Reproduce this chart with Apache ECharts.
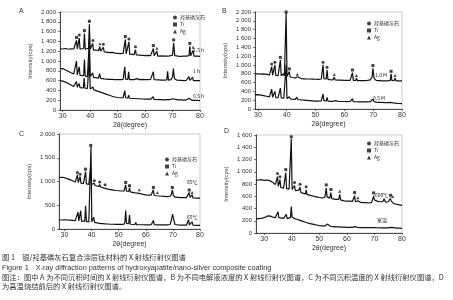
<!DOCTYPE html>
<html>
<head>
<meta charset="utf-8">
<script src="https://cdn.jsdelivr.net/npm/echarts@6/dist/echarts.min.js"></script>
<style>
  html, body { margin: 0; padding: 0; background: #fff; }
  #main { width: 453px; height: 300px; }
</style>
</head>
<body>
<div id="main"></div>
<script>
// x tick labels shared by all four panels
const xTicks = [30, 40, 50, 60, 70, 80];

// panel A: three deposition times
const A1 = [[29,1250],[30,1245],[31,1255],[32,1240],[33,1250],[34,1245],[34.7,1250],[35,1420],[35.3,1245],[35.7,1250],[36,1470],[36.3,1240],[37,1250],[37.6,1255],[37.9,1560],[38.2,1240],[38.8,1250],[39.4,1260],[39.7,1750],[40,1240],[40.6,1230],[40.9,1360],[41.2,1220],[42,1225],[43,1210],[43.5,1290],[43.8,1200],[44.5,1195],[44.8,1280],[45.1,1185],[46,1180],[47,1170],[48,1175],[49,1160],[50,1155],[51,1150],[52,1155],[52.5,1150],[52.8,1440],[53.1,1145],[53.8,1150],[54.1,1390],[54.4,1140],[55,1135],[56,1130],[56.5,1230],[56.8,1125],[58,1120],[59,1115],[60,1110],[61,1115],[62,1110],[62.7,1115],[63,1255],[63.3,1110],[64,1105],[64.3,1200],[64.6,1100],[66,1105],[67,1100],[68,1100],[69,1105],[70,1120],[70.4,1370],[70.8,1110],[71.5,1100],[72,1100],[73,1095],[74,1100],[75,1100],[76,1110],[76.3,1300],[76.6,1105],[77.2,1100],[77.5,1220],[77.8,1100],[78,1095],[79,1100],[80,1095]];
const A2 = [[29,840],[29.5,850],[30,845],[31,815],[32,790],[33,760],[34,735],[34.7,720],[35,1000],[35.3,715],[35.7,710],[36,880],[36.3,705],[37,700],[37.6,700],[37.9,1030],[38.2,690],[39,680],[39.4,690],[39.7,1450],[40,680],[40.6,670],[40.9,760],[41.2,665],[42,660],[43,650],[43.4,740],[43.8,645],[45,635],[46,630],[47,625],[48,625],[49,620],[50,620],[51,620],[52,625],[52.3,640],[52.6,880],[52.9,630],[53.7,625],[54,780],[54.3,620],[55,620],[56,620],[57,640],[57.4,625],[58,620],[59,625],[60,620],[61,620],[62,625],[62.7,630],[63,780],[63.3,620],[64,615],[65,615],[66,610],[67,610],[67.9,615],[68.2,790],[68.5,610],[69.5,620],[70,680],[70.3,845],[70.7,640],[71.5,610],[72,605],[73,605],[74,600],[75,605],[75.7,610],[76,680],[76.3,605],[77,610],[77.3,665],[77.6,600],[78,600],[79,600],[80,600]];
const A3 = [[29,600],[30,590],[31,570],[32,540],[33,510],[34,480],[34.7,470],[35,580],[35.3,465],[35.7,460],[36,540],[36.3,455],[37,450],[37.5,450],[37.8,650],[38.1,445],[39,440],[39.4,450],[39.7,1100],[40,430],[40.7,420],[41,470],[41.3,410],[42,400],[43,380],[44,360],[44.5,380],[45,340],[46,320],[47,300],[48,280],[49,265],[50,255],[51,250],[52,250],[52.3,260],[52.6,395],[52.9,250],[53.7,245],[54,305],[54.3,240],[55,240],[56,235],[57,230],[57.5,270],[57.8,230],[59,225],[60,220],[61,220],[62,220],[62.7,225],[63,270],[63.3,215],[64,215],[65,210],[66,210],[67,205],[68,210],[69,210],[70,230],[70.3,270],[70.7,215],[72,205],[73,205],[74,200],[75,205],[75.7,205],[76,240],[76.3,200],[77,200],[77.3,225],[77.6,200],[78,195],[79,195],[80,190]];

// panel B: two electrolyte concentrations
const B1 = [[29,795],[30,800],[31,790],[32,795],[33,785],[34,775],[34.5,770],[34.8,960],[35.1,765],[35.6,770],[35.9,1000],[36.2,760],[37,755],[37.5,760],[37.8,1110],[38.1,750],[38.7,760],[38.9,800],[39.2,750],[39.5,760],[39.8,2180],[40.1,740],[40.6,735],[40.9,850],[41.2,725],[42,715],[43,705],[43.7,730],[44,700],[45,690],[46,685],[47,680],[48,680],[49,678],[50,675],[51,672],[52,680],[52.3,700],[52.6,1000],[52.9,690],[53.7,680],[54,885],[54.3,670],[55,665],[56,660],[56.5,720],[56.8,660],[58,655],[59,655],[60,650],[61,650],[62,650],[62.5,660],[62.8,825],[63.1,650],[64,650],[64.2,700],[64.5,645],[66,645],[67,645],[68,650],[69,660],[69.6,720],[69.9,925],[70.3,700],[71,650],[72,645],[73,640],[74,640],[75,640],[75.9,650],[76.2,795],[76.5,645],[77.3,650],[77.6,700],[77.9,640],[79,640],[80,638]];
const B2 = [[29,320],[30,325],[31,315],[32,305],[33,290],[34,275],[34.5,270],[34.8,450],[35.1,265],[35.6,262],[35.9,400],[36.2,260],[37,255],[37.5,258],[37.8,475],[38.1,250],[39,245],[39.5,250],[39.8,1000],[40.1,240],[40.6,235],[40.9,280],[41.2,230],[42,225],[43,220],[43.5,270],[43.8,215],[45,205],[46,200],[47,195],[48,190],[49,185],[50,180],[51,178],[52,185],[52.3,200],[52.6,340],[52.9,190],[53.7,185],[54,265],[54.3,180],[55,175],[56,175],[57,190],[57.3,175],[58,170],[59,170],[60,170],[61,168],[62,170],[62.5,175],[62.8,235],[63.1,165],[64,165],[65,160],[66,165],[66.3,180],[66.6,160],[68,160],[69,165],[69.6,190],[69.9,225],[70.3,170],[71,155],[72,150],[73,150],[74,145],[75,145],[75.7,150],[76,170],[76.3,140],[77,140],[77.4,165],[77.7,135],[78,130],[79,125],[80,120]];

// panel C: two deposition temperatures
const C1 = [[28,1080],[29,1090],[30,1080],[31,1060],[32,1040],[33,1015],[34,990],[34.5,980],[34.8,1140],[35.1,975],[35.5,970],[35.8,1105],[36.1,965],[37,955],[37.5,960],[37.8,1210],[38.1,950],[39,940],[39.4,945],[39.7,1300],[40,935],[40.7,925],[41,965],[41.3,915],[42,905],[42.7,895],[43,940],[43.3,885],[44,870],[44.7,860],[45,880],[45.3,850],[46,840],[47,830],[48,820],[49,810],[50,805],[51,800],[52,800],[52.3,810],[52.6,930],[52.9,795],[53.7,790],[54,860],[54.3,780],[55,770],[56,760],[57,755],[57.6,775],[57.9,745],[59,730],[60,720],[61,715],[62,715],[62.5,720],[62.8,825],[63.1,710],[64,700],[64.3,720],[64.6,695],[66,690],[67,685],[68,680],[69,690],[69.5,740],[69.8,825],[70.2,700],[71,670],[72,665],[73,660],[74,660],[75,660],[75.7,670],[76,770],[76.3,665],[76.8,670],[77.1,720],[77.4,655],[78,650],[79,650],[80,648]];
const C2 = [[28,195],[29,190],[30,195],[31,190],[32,185],[33,180],[34,175],[34.7,175],[35,355],[35.3,170],[35.7,170],[36,385],[36.3,165],[37,160],[37.5,165],[37.8,490],[38.1,160],[39,150],[39.5,155],[39.8,1730],[40.1,150],[40.5,150],[40.8,250],[41.1,140],[42,130],[43,120],[44,115],[45,108],[46,105],[47,100],[48,100],[49,98],[50,98],[51,96],[52,100],[52.3,150],[52.6,390],[52.9,120],[53.7,110],[54,300],[54.3,100],[55,95],[56,95],[56.3,140],[56.6,92],[58,90],[59,90],[60,88],[61,88],[62,90],[62.5,110],[62.8,180],[63.1,95],[64,88],[64.3,100],[64.6,85],[66,85],[67,85],[68,85],[69,95],[69.5,200],[69.9,315],[70.3,200],[70.8,95],[72,85],[73,80],[74,80],[75,80],[75.5,90],[75.8,195],[76.1,85],[76.8,90],[77.1,150],[77.4,80],[78,80],[79,78],[80,75]];

// panel D: before / after sintering
const D1 = [[27,860],[28,865],[29,870],[30,860],[31,865],[32,855],[33,830],[34,790],[34.5,770],[34.8,920],[35.1,760],[35.4,755],[35.7,870],[36,745],[37,730],[37.5,735],[37.8,985],[38.1,725],[39,715],[39.5,720],[39.8,1540],[40.1,710],[40.7,700],[41,775],[41.3,690],[42,680],[42.5,700],[42.8,670],[43,745],[43.3,660],[44,650],[45,640],[45.2,705],[45.5,630],[46,620],[47,610],[48,600],[49,590],[50,580],[51,575],[52,580],[52.2,600],[52.5,735],[52.8,590],[53.8,570],[54.2,660],[54.5,560],[55,555],[56,550],[57,550],[57.4,630],[57.7,540],[59,525],[60,520],[61,520],[62,515],[62.5,525],[62.8,610],[63.1,510],[63.8,505],[64,525],[64.3,500],[65,500],[66,495],[67,495],[68,490],[69,500],[69.4,560],[69.7,605],[70,540],[70.5,560],[71,520],[72,510],[73,510],[73.5,560],[74,505],[75,510],[75.5,530],[75.8,565],[76.1,520],[76.6,545],[77,480],[78,470],[79,460],[80,450]];
const D2 = [[27,230],[28,235],[29,240],[30,250],[30.5,260],[31,275],[31.5,290],[32,280],[33,260],[34,250],[34.7,260],[35,345],[35.3,250],[36,245],[37,240],[37.7,250],[38,305],[38.3,235],[39,230],[39.5,250],[39.8,430],[40.1,260],[40.5,240],[41,235],[42,220],[43,205],[44,190],[45,175],[46,160],[47,150],[48,140],[49,130],[50,120],[51,115],[52,115],[52.7,125],[53,145],[53.3,115],[54,110],[55,105],[56,100],[57,100],[58,95],[59,95],[60,92],[61,92],[62,92],[62.7,95],[63,105],[63.3,90],[64,90],[65,88],[66,88],[67,88],[68,87],[69,87],[70,88],[70.5,95],[71,86],[72,85],[73,85],[74,85],[75,85],[76,92],[77,88],[78,80],[79,78],[80,75]];

// phase marks sitting on top of the peaks (羟基磷灰石 / Ti / Ag)
const markHA = [
  [[36,1530],[41,1420],[44.8,1340],[54.1,1450],[56.5,1290]],
  [[34.8,1020],[35.9,1060],[52.6,1060],[54,945]],
  [[34.8,1190],[35.8,1155],[41,1015],[43,990],[45,930]],
  [[34.8,970],[35.7,920],[41,825],[43,795],[45.2,755]]
];
const markTi = [
  [[35,1480],[37.9,1620],[39.7,1810],[52.8,1500],[63,1315],[70.4,1430],[76.3,1360]],
  [[37.8,1170],[39.8,2200],[40.9,910],[62.8,885],[69.9,985],[76.2,855]],
  [[37.8,1260],[39.7,1760],[52.6,980],[54,910],[62.8,875],[69.8,875],[76,820]],
  [[37.8,1035],[39.8,1570],[52.5,785],[54.2,710],[62.8,660],[69.7,655],[75.8,615]]
];
const markAg = [
  [[43.5,1350],[64.3,1260],[77.5,1280]],
  [[43.7,790],[56.5,780],[64.2,760],[77.6,760]],
  [[57.6,825],[64.3,770],[77.1,770]],
  [[57.4,680],[64,575],[76.6,595]]
];

// curve labels on the right of each panel
const labelsA = ['1.5 h', '1 h', '0.5 h'];
const labelsB = ['1.0 M', '0.5 M'];
const labelsC = ['85℃', '65℃'];
const labelsD = ['600℃', '室温'];

const panels = [
  { letter: 'A', curves: [A1, A2, A3], min: 29, max: 2000, step: 200,
    grid: { left: 60, top: 12, width: 140, height: 98 },
    legend: { left: 168, top: 10 }, labels: labelsA, labelPos: [[193, 52], [193, 73], [193, 98]] },
  { letter: 'B', curves: [B1, B2], min: 29, max: 2200, step: 200,
    grid: { left: 255, top: 12, width: 147, height: 97 },
    legend: { left: 362, top: 16 }, labels: labelsB, labelPos: [[375, 77], [373, 100]] },
  { letter: 'C', curves: [C1, C2], min: 28, max: 2000, step: 500,
    grid: { left: 59, top: 134, width: 141, height: 95 },
    legend: { left: 160, top: 152 }, labels: labelsC, labelPos: [[187, 184], [187, 219]] },
  { letter: 'D', curves: [D1, D2], min: 27, max: 1600, step: 200,
    grid: { left: 256, top: 135, width: 146, height: 98 },
    legend: { left: 362, top: 136 }, labels: labelsD, labelPos: [[375, 197], [377, 222]] }
];

const axisFont = 'Liberation Sans, Arial, sans-serif';
const cjkFont = '"Noto Sans CJK SC", sans-serif';

function thousands(v) {
  return v >= 1000 ? String(v).replace(/(\d)(\d{3})$/, '$1 $2') : String(v);
}

const grid = [], xAxis = [], yAxis = [], legend = [], series = [], graphic = [];

panels.forEach((p, i) => {
  grid.push(Object.assign({ show: true, borderColor: '#aaa', borderWidth: 0.6 }, p.grid));
  xAxis.push({
    type: 'value', gridIndex: i, min: p.min, max: 80,
    name: '2θ(degree)', nameLocation: 'middle', nameGap: 12,
    nameTextStyle: { fontSize: 7, color: '#333', fontFamily: axisFont },
    axisLine: { lineStyle: { color: '#222', width: 0.8 } },
    axisTick: { length: 2, lineStyle: { color: '#222', width: 0.6 }, customValues: xTicks },
    axisLabel: { fontSize: 7, color: '#333', margin: 3, fontFamily: axisFont, customValues: xTicks },
    splitLine: { show: false }
  });
  yAxis.push({
    type: 'value', gridIndex: i, min: 0, max: p.max, interval: p.step,
    name: 'Intensity(cps)', nameLocation: 'middle', nameGap: 27,
    nameTextStyle: { fontSize: 6, color: '#444', fontFamily: axisFont },
    axisLine: { show: true, lineStyle: { color: '#222', width: 0.8 } },
    axisTick: { show: true, length: 2, lineStyle: { color: '#222', width: 0.6 } },
    axisLabel: { fontSize: 6, color: '#333', margin: 4, fontFamily: axisFont, formatter: thousands },
    splitLine: { show: false }
  });
  legend.push({
    left: p.legend.left, top: p.legend.top, orient: 'vertical',
    itemWidth: 4, itemHeight: 4, itemGap: 2,
    textStyle: { fontSize: 5, color: '#333', fontFamily: cjkFont, padding: [0, 0, 0, -2] },
    data: ['羟基磷灰石', 'Ti', 'Ag']
  });
  p.curves.forEach((c, k) => {
    series.push({
      name: p.letter + (k + 1), type: 'line', data: c,
      xAxisIndex: i, yAxisIndex: i, symbol: 'none', silent: true,
      lineStyle: { color: '#111', width: 1.2 }
    });
  });
  series.push({ name: '羟基磷灰石', type: 'scatter', data: markHA[i], xAxisIndex: i, yAxisIndex: i,
    symbol: 'circle', symbolSize: 3, itemStyle: { color: '#111' } });
  series.push({ name: 'Ti', type: 'scatter', data: markTi[i], xAxisIndex: i, yAxisIndex: i,
    symbol: 'rect', symbolSize: 3, itemStyle: { color: '#111' } });
  series.push({ name: 'Ag', type: 'scatter', data: markAg[i], xAxisIndex: i, yAxisIndex: i,
    symbol: 'triangle', symbolSize: 3, itemStyle: { color: '#111' } });

  p.labels.forEach((t, k) => {
    graphic.push({ type: 'text', left: p.labelPos[k][0], top: p.labelPos[k][1] - 4,
      style: { text: t, fontSize: 5, fill: '#222', fontFamily: cjkFont } });
  });
});

// panel letters
[['A', 19, 8], ['B', 222, 8], ['C', 19, 131], ['D', 224, 128]].forEach(l => {
  graphic.push({ type: 'text', left: l[1], top: l[2],
    style: { text: l[0], fontSize: 7, fill: '#333', fontFamily: axisFont } });
});

// figure caption
const caption = [
  ['图 1　银/羟基磷灰石复合涂层钛材料的 X 射线衍射仪图谱', 254, cjkFont],
  ['Figure 1　X-ray diffraction patterns of hydroxyapatite/nano-silver composite coating', 264, axisFont],
  ['图注：图中 A 为不同沉积时间的 X 射线衍射仪图谱，B 为不同电解液浓度的 X 射线衍射仪图谱，C 为不同沉积温度的 X 射线衍射仪图谱，D', 274, cjkFont],
  ['为高温烧结前后的 X 射线衍射仪图谱。', 283, cjkFont]
];
caption.forEach(c => {
  graphic.push({ type: 'text', left: 2, top: c[1],
    style: { text: c[0], fontSize: 7.3, fill: '#333', fontFamily: c[2] } });
});

const chart = echarts.init(document.getElementById('main'));
chart.setOption({
  animation: false,
  backgroundColor: '#fff',
  grid, xAxis, yAxis, legend, series, graphic
});
</script>
</body>
</html>
